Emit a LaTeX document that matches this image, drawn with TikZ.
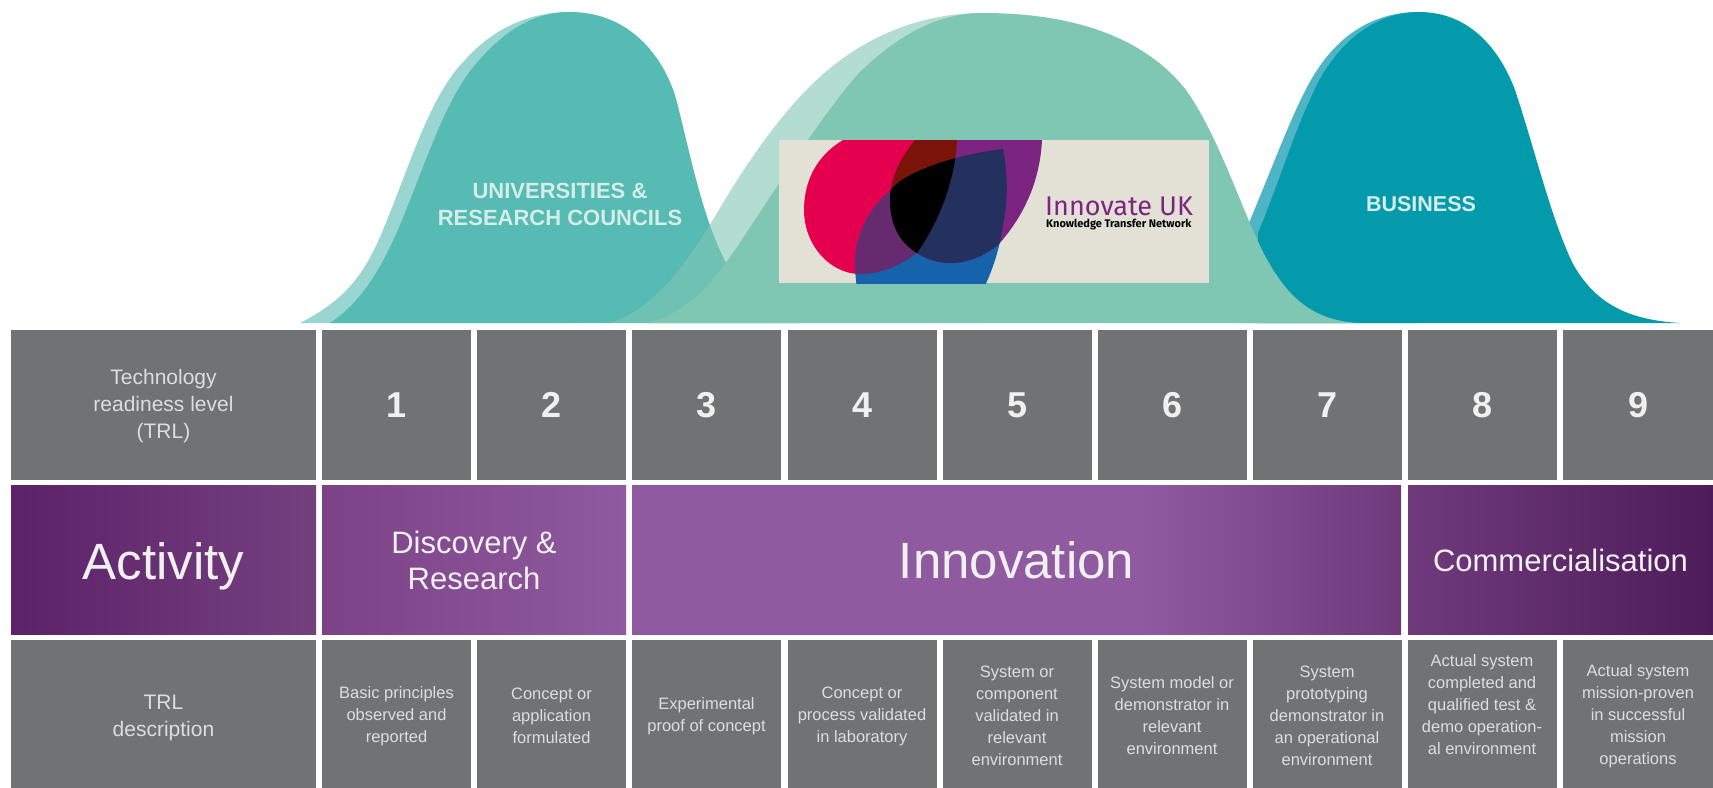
\documentclass[tikz,border=0pt]{standalone}
\usepackage{fontspec}
\setmainfont{Liberation Sans}
\newfontfamily\logofont{Fira Sans}
\definecolor{g1}{HTML}{717273}
\definecolor{h1}{HTML}{55BBB3}
\definecolor{h2}{HTML}{80C7B3}
\definecolor{h3}{HTML}{039BAB}
\definecolor{h3b}{HTML}{4FB4C6}
\definecolor{t1}{HTML}{D5ECE9}
\definecolor{t2}{HTML}{F0F0F0}
\definecolor{t3}{HTML}{DDDDDD}
\definecolor{v1}{HTML}{5C2268}
\definecolor{v2}{HTML}{74407F}
\definecolor{v3}{HTML}{7C4287}
\definecolor{v4}{HTML}{8F5A9F}
\definecolor{v5}{HTML}{6F3A7C}
\definecolor{v6}{HTML}{4E1C59}
\definecolor{l0}{HTML}{E3E1D5}
\definecolor{l1}{HTML}{E5004F}
\definecolor{l2}{HTML}{1763AB}
\definecolor{l3}{HTML}{7B2480}
\definecolor{l4}{HTML}{662A6E}
\definecolor{l5}{HTML}{7A1409}
\definecolor{l6}{HTML}{24305E}
\pgfdeclarehorizontalshading{innov}{100bp}{color(0bp)=(v4); color(58bp)=(v4); color(75bp)=(v5); color(100bp)=(v5)}
\def\petalred{(843,140) .. controls (810,160) and (804,190) .. (804,210) .. controls (804,245) and (830,274) .. (860,274) .. controls (885,274) and (905,262) .. (917,253) .. controls (940,220) and (955,180) .. (957,140) -- cycle}
\def\petalblue{(1003,149) .. controls (950,155) and (900,175) .. (891,190) .. controls (860,215) and (854,250) .. (855,265) .. controls (855,272) and (856,280) .. (857,290) -- (983,290) .. controls (995,265) and (1000,245) .. (1003,225) .. controls (1008,200) and (1008,175) .. (1003,149) -- cycle}
\def\petalpurple{(915,140) .. controls (895,165) and (890,185) .. (890,200) .. controls (890,225) and (900,243) .. (917,253) .. controls (930,262) and (945,263) .. (950,263) .. controls (970,263) and (985,255) .. (998,245) .. controls (1025,215) and (1040,180) .. (1042,140) -- cycle}

\begin{document}
\begin{tikzpicture}[x=1pt,y=-1pt,
cell/.style={fill=g1,inner sep=0pt,minimum width=149pt,minimum height=150pt,text=t2,align=center,font=\bfseries\fontsize{36}{42}\selectfont},
head/.style={fill=g1,minimum width=305pt,minimum height=150pt,inner sep=0pt},
headtext/.style={inner sep=0pt,text=t3,align=center,font=\fontsize{21}{27}\selectfont},
desc/.style={cell,minimum height=152pt,text=t3,font=\fontsize{16.5}{22}\selectfont},
act/.style={inner sep=0pt,minimum height=149pt,text=t2,align=center},
hump/.style={text=t1,align=center,font=\bfseries\fontsize{22}{27}\selectfont}]
\useasboundingbox (0,0) rectangle (1713,787);

% humps
\fill[h1,opacity=.6] (300,323) .. controls (345,300) and (365,275) .. (385,225) .. controls (410,165) and (430,95) .. (465,60) .. controls (490,32) and (525,12) .. (570,12) -- (570,323) -- cycle;
\fill[h1] (330,323) .. controls (365,300) and (385,260) .. (400,225) .. controls (425,165) and (445,100) .. (475,65) .. controls (500,35) and (530,12) .. (570,12) .. controls (625,12) and (660,50) .. (675,95) .. controls (690,150) and (705,240) .. (740,285) .. controls (755,305) and (775,318) .. (800,323) -- cycle;
\fill[h3b] (1235,255) .. controls (1260,200) and (1285,130) .. (1304,93) .. controls (1325,50) and (1360,12) .. (1419,12) -- (1419,323) -- (1235,323) -- cycle;
\fill[h3] (1258,233) .. controls (1280,180) and (1295,130) .. (1310,100) .. controls (1330,50) and (1370,12) .. (1419,12) .. controls (1470,12) and (1500,50) .. (1515,90) .. controls (1535,150) and (1550,215) .. (1572,262) .. controls (1595,305) and (1630,320) .. (1680,323) -- (1258,323) -- cycle;
\fill[h2,opacity=.6] (610,323) .. controls (650,310) and (680,275) .. (717,213) .. controls (760,140) and (800,90) .. (838,62) .. controls (880,30) and (930,13) .. (983,13) -- (983,323) -- cycle;
\fill[h2] (650,323) .. controls (690,310) and (710,285) .. (735,250) .. controls (785,175) and (825,110) .. (860,72) .. controls (895,38) and (935,13) .. (983,13) .. controls (1075,13) and (1145,38) .. (1186,90) .. controls (1218,135) and (1240,205) .. (1262,250) .. controls (1285,295) and (1310,320) .. (1358,323) -- cycle;
\node[hump] (univ) at (560,204) {UNIVERSITIES \&\\RESEARCH COUNCILS};
\node[hump,font=\bfseries\fontsize{21.5}{24}\selectfont] (business) at (1421,204) {BUSINESS};

% logo
\begin{scope}
\clip (779,140) rectangle (1209,283);
\fill[l0] (779,140) rectangle (1209,283);
\fill[l1] \petalred;
\fill[l2] \petalblue;
\fill[l3] \petalpurple;
\begin{scope}
\clip \petalred;
\fill[l4] \petalblue;
\fill[l5] \petalpurple;
\end{scope}
\begin{scope}
\clip \petalpurple;
\fill[l6] \petalblue;
\clip \petalred;
\fill[black] \petalblue;
\end{scope}
\end{scope}
\node[anchor=west,inner sep=0pt,text=l3,font=\logofont\fontsize{27}{30}\selectfont] (innovate) at (1045,206) {Innovate UK};
\node[anchor=west,inner sep=0pt,text=black,font=\logofont\bfseries\fontsize{11}{13}\selectfont] (ktn) at (1046,225) {Knowledge Transfer Network};

% TRL row
\node[head] (trl) at (163.5,405) {};
\node[headtext] (trltext) at (163.5,406) {Technology\\readiness level\\(TRL)};
\node[cell] (n1) at (396.5,405) {1};
\node[cell] (n2) at (551.5,405) {2};
\node[cell] (n3) at (706.5,405) {3};
\node[cell] (n4) at (862,405) {4};
\node[cell] (n5) at (1017,405) {5};
\node[cell] (n6) at (1172,405) {6};
\node[cell] (n7) at (1327,405) {7};
\node[cell] (n8) at (1482,405) {8};
\node[cell,minimum width=150pt] (n9) at (1638,405) {9};

% activity row
\node[act,minimum width=305pt,left color=v1,right color=v2] (activity) at (163.5,560) {};
\node[inner sep=0pt,text=t2,font=\fontsize{51}{55}\selectfont] (activitytext) at (163.5,566) {Activity};
\node[act,minimum width=304pt,left color=v3,right color=v4,font=\fontsize{31}{36}\selectfont] (discovery) at (474,560) {Discovery \&\\Research};
\node[act,minimum width=769pt,shading=innov,font=\fontsize{51}{55}\selectfont] (innovation) at (1016.5,560) {Innovation};
\node[act,minimum width=305pt,left color=v5,right color=v6,font=\fontsize{31}{36}\selectfont] (commercial) at (1560.5,560) {Commercialisation};

% description row
\node[head,minimum height=152pt] (trldesc) at (163.5,716) {};
\node[headtext] (trldesctext) at (163.5,718) {TRL\\description};
\node[desc] (d1) at (396.5,716) {Basic principles\\observed and\\reported};
\node[desc] (d2) at (551.5,716) {Concept or\\application\\formulated};
\node[desc] (d3) at (706.5,716) {Experimental\\proof of concept};
\node[desc] (d4) at (862,716) {Concept or\\process validated\\in laboratory};
\node[desc] (d5) at (1017,716) {System or\\component\\validated in\\relevant\\environment};
\node[desc] (d6) at (1172,716) {System model or\\demonstrator in\\relevant\\environment};
\node[desc] (d7) at (1327,716) {System\\prototyping\\demonstrator in\\an operational\\environment};
\node[desc] (d8) at (1482,716) {};
\node[desc,fill=none,minimum height=0pt] (d8text) at (1482,705) {Actual system\\completed and\\qualified test \&\\demo operation-\\al environment};
\node[desc,minimum width=150pt] (d9) at (1638,716) {Actual system\\mission-proven\\in successful\\mission\\operations};
\end{tikzpicture}
\end{document}
